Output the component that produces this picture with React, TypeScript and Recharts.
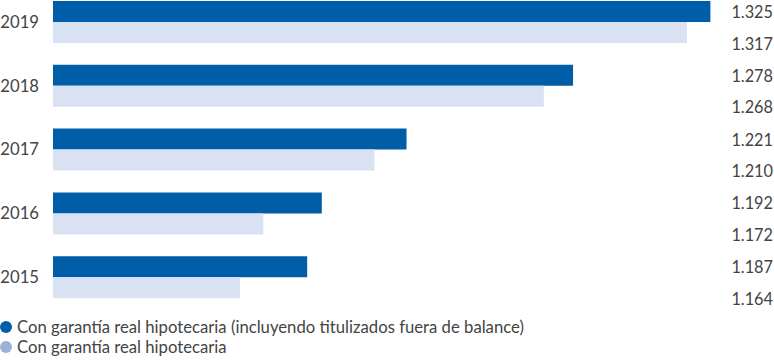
import React from 'react';
import { BarChart, Bar, XAxis, YAxis, LabelList } from 'recharts';

const years = ['2019', '2018', '2017', '2016', '2015'];
const incluyendo = [1325, 1278, 1221, 1192, 1187];
const hipotecaria = [1317, 1268, 1210, 1172, 1164];
const seriesNames = [
  'Con garantía real hipotecaria (incluyendo titulizados fuera de balance)',
  'Con garantía real hipotecaria',
];

const DARK = '#005EA8';
const LIGHT = '#D9E2F3';
const LIGHT_LEGEND = '#9BB1D9';
const TEXT = '#444444';
const FONT = 'Lato, "Open Sans", sans-serif';

const data = years.map((y, i) => ({ year: y, a: incluyendo[i], b: hipotecaria[i] }));

const fmt = (v: number) => {
  const s = String(v);
  return s.length > 3 ? s.slice(0, s.length - 3) + '.' + s.slice(s.length - 3) : s;
};

const makeLabel = (atBottom: boolean) => (props: any) => {
  const { y, height, value } = props;
  const cy = atBottom ? Number(y) + Number(height) : Number(y) + Number(height) / 2;
  return (
    <text
      x={773}
      y={cy}
      textAnchor="end"
      dominantBaseline="central"
      fill={TEXT}
      fontSize={16.3}
      fontFamily={FONT}
    >
      {fmt(Number(value))}
    </text>
  );
};

export default function App() {
  return (
    <div style={{ position: 'absolute', left: 0, top: 0, width: 774, height: 362, fontFamily: FONT }}>
      <BarChart
        width={774}
        height={362}
        data={data}
        layout="vertical"
        margin={{ top: -10, right: 49, bottom: 53, left: 0 }}
        barGap={0}
        barSize={21}
      >
        <XAxis type="number" domain={[1100, 1330]} hide />
        <YAxis
          type="category"
          dataKey="year"
          width={53}
          axisLine={false}
          tickLine={false}
          tickSize={0}
          tickMargin={14}
          tick={{ fill: TEXT, fontSize: 16.7, fontFamily: FONT }}
        />
        <Bar dataKey="a" fill={DARK} isAnimationActive={false}>
          <LabelList dataKey="a" content={makeLabel(false)} />
        </Bar>
        <Bar dataKey="b" fill={LIGHT} isAnimationActive={false}>
          <LabelList dataKey="b" content={makeLabel(true)} />
        </Bar>
      </BarChart>
      <div style={{ position: 'absolute', left: 0, top: 317, fontSize: 16.7, color: TEXT, lineHeight: '20px' }}>
        {seriesNames.map((n, i) => (
          <div key={n} style={{ display: 'flex', alignItems: 'center', whiteSpace: 'nowrap' }}>
            <span
              style={{
                display: 'inline-block',
                width: 12,
                height: 12,
                borderRadius: 6,
                background: i === 0 ? DARK : LIGHT_LEGEND,
                marginRight: 5,
              }}
            />
            <span>{n}</span>
          </div>
        ))}
      </div>
    </div>
  );
}
